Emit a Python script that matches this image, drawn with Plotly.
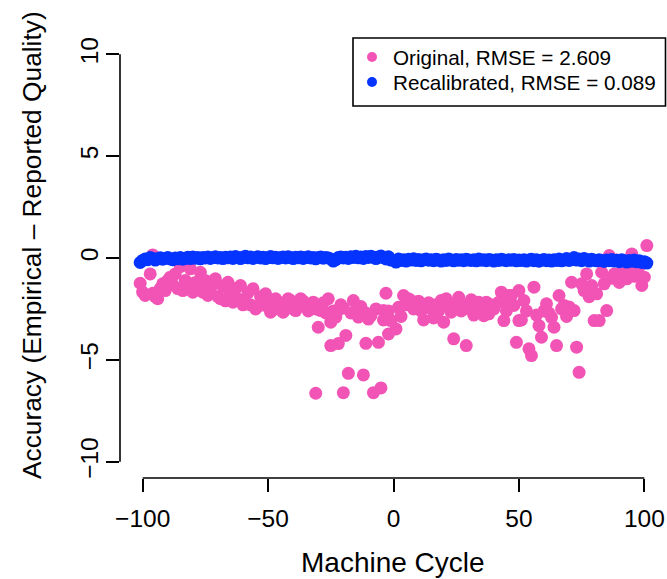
import plotly.graph_objects as go

# ---------------- data ----------------
cycle_orig = [
    -101, -100, -99, -97, -96, -96, -95, -94, -93, -92, -91, -90, -89, -88, -87, -86, -85, -84, -83, -82,
    -81, -80, -79, -78, -77, -77, -76, -75, -74, -73, -72, -71, -70, -69, -68, -67, -66, -65, -64, -63,
    -62, -61, -60, -59, -58, -57, -56, -55,
    -54, -53, -52, -51, -50, -49, -48, -47, -46, -45, -44, -43, -42, -41, -40, -39, -38, -37, -36, -35,
    -34, -33, -32, -31, -31, -30, -29, -28, -27, -26, -25, -25, -24, -23, -22, -22, -21, -20, -20, -19,
    -18, -17, -16, -15, -14, -13, -12, -11, -11, -10, -9, -8, -7, -6, -5, -4, -4, -3, -2, -2, -1,
    1, 2, 3, 4, 5, 6, 7, 8, 9, 10, 11, 12, 13, 14, 15, 16, 17, 18, 19, 20,
    21, 22, 23, 24, 25, 26, 27, 28, 29, 30, 31, 32, 33, 34, 35, 36, 37, 38, 39, 40,
    42, 43, 44, 45, 46, 46, 47, 48, 49, 50, 50, 51, 52, 53, 54, 55, 56, 57, 58, 59,
    60, 61, 62, 63, 64, 65, 66, 67, 68, 69, 70, 71, 72, 73, 74, 75, 76, 77, 78, 79,
    80, 81, 82, 83, 84, 85, 86, 87, 88, 89, 90, 91, 92, 93, 94, 95, 96, 97, 98, 99, 100, 101,
]
acc_orig = [
    -1.24, -1.68, -1.84, -0.78, 0.15, -1.73, -1.9, -2.0, -1.5, -1.27, -1.6, -1.1, -0.94, -1.3, -0.78, -1.5, -0.42, -1.6, -1.1, -1.4,
    -0.53, -1.68, -1.2, -1.5, -0.7, -1.27, -1.68, -1.1, -1.84, -1.68, -1.3, -1.02, -1.9, -2.0, -1.4, -2.1, -1.19, -1.7, -2.17, -1.5,
    -2.0, -1.35, -2.3, -2.25, -1.7, -2.3, -1.51, -2.5,
    -2.38, -1.9, -2.3, -1.76, -2.4, -2.66, -2.1, -2.0, -2.5, -2.2, -2.66, -2.3, -2.0, -2.09, -2.5, -2.58, -2.3, -2.0, -2.12, -2.4,
    -2.6, -2.33, -2.17, -6.64, -2.5, -3.4, -2.58, -2.2, -2.7, -2.0, -4.3, -3.15, -2.6, -2.9, -4.2, -2.55, -2.3, -6.61, -2.45, -3.8,
    -5.66, -2.7, -2.09, -2.6, -2.9, -2.38, -5.74, -4.19, -2.7, -3.0, -2.83, -6.61, -2.5, -4.14, -6.38, -3.04, -2.58, -1.73, -3.73, -2.6, -3.07,
    -3.48, -2.42, -2.87, -1.84, -2.3, -2.0, -2.09, -2.5, -2.2, -2.12, -2.6, -3.04, -2.33, -2.2, -2.5, -2.94, -2.3, -2.6, -2.09, -3.15,
    -2.0, -2.4, -2.66, -3.97, -2.2, -1.93, -2.6, -2.33, -4.3, -2.5, -2.05, -2.8, -2.3, -2.17, -2.5, -2.83, -2.17, -2.74, -2.3, -2.5,
    -2.17, -1.68, -3.07, -2.6, -1.84, -2.33, -1.84, -2.33, -4.14, -1.6, -3.07, -3.04, -2.09, -2.6, -4.46, -4.79, -1.43, -2.8, -3.32, -3.89,
    -2.6, -2.25, -2.7, -2.91, -3.4, -4.3, -1.84, -2.5, -2.33, -2.87, -2.4, -1.19, -2.58, -4.38, -5.61, -1.27, -1.6, -0.78, -1.9, -1.35,
    -3.07, -1.76, -3.07, -0.7, -1.27, -2.58, 0.12, -1.0, -0.78, -0.1, -1.2, -0.7, -0.5, -1.02, -0.6, 0.2, -0.9, -0.78, -0.4, -1.35, -0.94, 0.61,
]

cycle_recal = list(range(-101, 0)) + list(range(1, 102))
acc_recal = [
    -0.22, -0.12, -0.05, -0.08, 0.02, -0.03, -0.10, -0.04, 0.01, -0.06, -0.02, 0.03, -0.05, -0.08, 0.00, -0.04, 0.02, -0.06, -0.02, 0.04,
    -0.03, 0.05, -0.01, 0.02, -0.04, 0.03, 0.00, 0.05, -0.02, 0.02, 0.06, 0.00, 0.03, -0.03, 0.04, 0.01, 0.05, -0.02, 0.07, 0.02,
    -0.03, 0.04, 0.08, 0.01, 0.05, -0.02, 0.03, 0.06, 0.00, 0.04, -0.03, 0.02, 0.07, 0.01, 0.04, -0.02, 0.03, 0.05, 0.00, 0.06,
    0.02, -0.03, 0.04, 0.01, 0.05, -0.02, 0.02, 0.06, 0.00, 0.03, -0.04, 0.02, 0.05, -0.01, 0.03, 0.00, -0.05, -0.15, -0.08, 0.02,
    0.05, 0.00, 0.04, -0.02, 0.06, 0.03, 0.08, 0.01, 0.05, -0.02, 0.07, 0.03, 0.09, 0.04, -0.03, 0.05, 0.10, 0.02, -0.05, 0.06,
    -0.10,
    -0.20, -0.05, -0.12, -0.08, -0.15, -0.06, -0.10, -0.04, -0.12, -0.07, -0.14, -0.09, -0.05, -0.11, -0.08, -0.13, -0.06, -0.10, -0.15, -0.08,
    -0.12, -0.05, -0.10, -0.14, -0.07, -0.11, -0.09, -0.13, -0.06, -0.10, -0.12, -0.08, -0.14, -0.05, -0.11, -0.09, -0.13, -0.07, -0.10, -0.15,
    -0.08, -0.12, -0.06, -0.10, -0.13, -0.09, -0.11, -0.07, -0.14, -0.10, -0.12, -0.08, -0.15, -0.10, -0.06, -0.13, -0.09, -0.16, -0.11, -0.07,
    -0.13, -0.10, -0.15, -0.08, -0.12, -0.05, -0.14, -0.10, -0.03, -0.12, -0.08, 0.02, -0.10, -0.05, -0.13, -0.02, -0.09, -0.15, -0.06, -0.11,
    -0.14, -0.08, -0.12, -0.17, -0.10, -0.13, -0.07, -0.15, -0.11, -0.18, -0.09, -0.14, -0.20, -0.12, -0.16, -0.10, -0.19, -0.14, -0.22, -0.18,
    -0.25,
]

x_ticks = [-100, -50, 0, 50, 100]
x_ticktext = ["\u2212100", "\u221250", "0", "50", "100"]
y_ticks = [-10, -5, 0, 5, 10]
y_ticktext = ["\u221210", "\u22125", "0", "5", "10"]

legend_labels = ["Original, RMSE = 2.609", "Recalibrated, RMSE = 0.089"]
x_title = "Machine Cycle"
y_title = "Accuracy (Empirical \u2013 Reported Quality)"

# ---------------- style ----------------
PINK = "#F254B6"
BLUE = "#0534FF"
FONT = "Liberation Sans, Arial, Helvetica, sans-serif"
OFF = 0                      # page body margin removed below
W, H = 667, 579
ML, MR, MT, MB = 120, 0, 38, 101
PW, PH = W - ML - MR, H - MT - MB

def px_x(p):                 # screen pixel -> paper x
    return (p - OFF - ML) / PW

def px_y(p):                 # screen pixel -> paper y
    return (H - MB - (p - OFF)) / PH

fig = go.Figure()
fig.add_trace(go.Scatter(x=cycle_orig, y=acc_orig, mode="markers",
                         marker=dict(color=PINK, size=13, line=dict(width=0)),
                         name=legend_labels[0], showlegend=False))
fig.add_trace(go.Scatter(x=cycle_recal, y=acc_recal, mode="markers",
                         marker=dict(color=BLUE, size=13, line=dict(width=0)),
                         name=legend_labels[1], showlegend=False))

shapes = [
    # R-style axis lines spanning only the tick range
    dict(type="line", xref="x", yref="paper", x0=x_ticks[0], x1=x_ticks[-1], y0=0, y1=0,
         line=dict(color="black", width=1.6)),
    dict(type="line", xref="paper", yref="y", x0=0, x1=0, y0=y_ticks[0], y1=y_ticks[-1],
         line=dict(color="black", width=1.6)),
    # legend box
    dict(type="rect", xref="paper", yref="paper", x0=px_x(353), x1=px_x(665.5),
         y0=px_y(106), y1=px_y(38), line=dict(color="black", width=1.6), fillcolor="white"),
]
annotations = []
for i, (lab, col) in enumerate(zip(legend_labels, [PINK, BLUE])):
    yc = 57 + 25 * i
    shapes.append(dict(type="circle", xref="paper", yref="paper", xsizemode="pixel", ysizemode="pixel",
                       xanchor=px_x(372), yanchor=px_y(yc), x0=-5, x1=5, y0=-5, y1=5,
                       fillcolor=col, line=dict(width=0)))
    annotations.append(dict(text=lab, xref="paper", yref="paper", x=px_x(391), y=px_y(yc),
                            xanchor="left", yanchor="middle", showarrow=False,
                            font=dict(family=FONT, size=20.7, color="black")))

annotations.append(dict(text=x_title, xref="paper", yref="paper", x=px_x(393), y=px_y(562),
                        xanchor="center", yanchor="middle", showarrow=False,
                        font=dict(family=FONT, size=28, color="black")))
annotations.append(dict(text=y_title, xref="paper", yref="paper", x=px_x(32), y=px_y(245),
                        xanchor="center", yanchor="middle", showarrow=False, textangle=-90,
                        font=dict(family=FONT, size=26.3, color="black")))

fig.update_layout(
    width=W, height=H,
    margin=dict(l=ML, r=MR, t=MT, b=MB, pad=0),
    paper_bgcolor="white", plot_bgcolor="white",
    shapes=shapes, annotations=annotations,
    showlegend=False,
    font=dict(family=FONT, color="black"),
    xaxis=dict(range=[-109.04, 109.04], showgrid=False, zeroline=False, showline=False,
               tickvals=x_ticks, ticktext=x_ticktext, ticks="outside", ticklen=13, tickwidth=1.6,
               tickcolor="black", tickfont=dict(family=FONT, size=24.5, color="black"),
               ticklabelstandoff=6, fixedrange=True),
    yaxis=dict(range=[-10.8, 10.8], showgrid=False, zeroline=False, showline=False,
               tickvals=y_ticks, ticktext=y_ticktext, ticks="outside", ticklen=13, tickwidth=1.6,
               tickcolor="black", tickangle=-90, tickfont=dict(family=FONT, size=24.5, color="black"),
               ticklabelstandoff=-2, fixedrange=True),
)

fig.write_html(
    "out.html",
    config={"displayModeBar": False},
    post_script="document.body.style.margin='0';document.body.style.overflow='hidden';",
)
